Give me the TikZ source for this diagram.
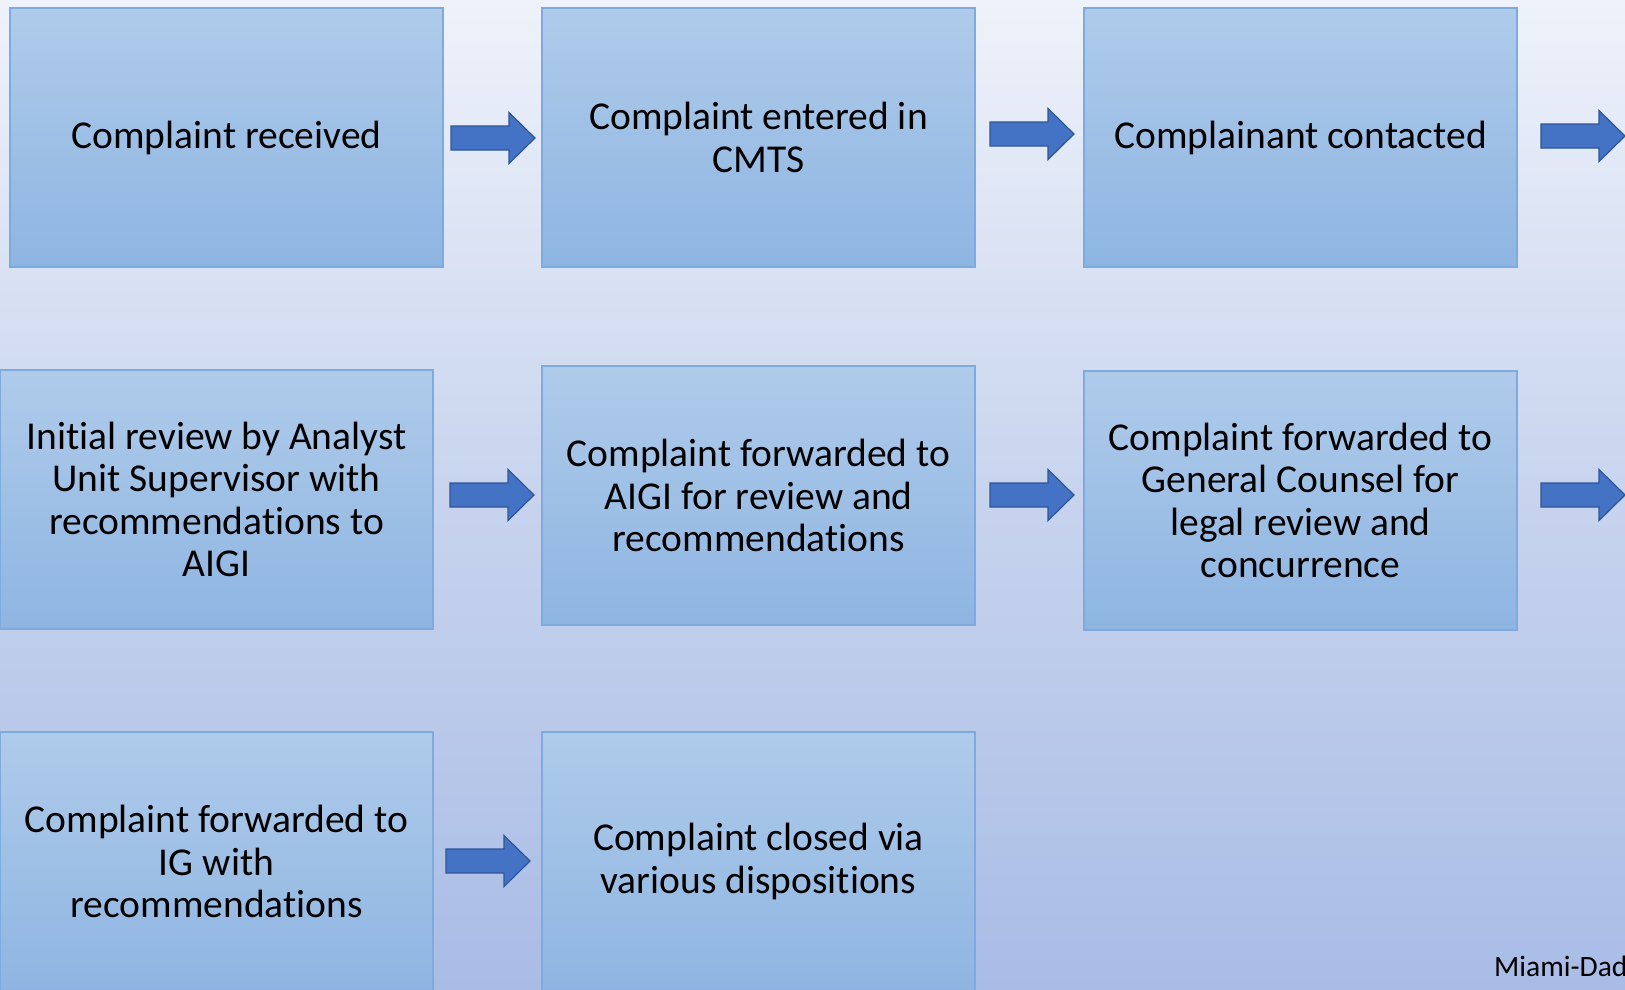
\documentclass[tikz,border=0pt]{standalone}
\usepackage{fontspec}
\setmainfont{Carlito}[Ligatures={NoCommon}]
\definecolor{bgtop}{HTML}{EEF2FA}
\definecolor{bgmid}{HTML}{C8D4EE}
\definecolor{bgbot}{HTML}{A9BCE6}
\definecolor{boxtop}{HTML}{AFCBEA}
\definecolor{boxbot}{HTML}{8EB5E2}
\definecolor{boxedge}{HTML}{7FAADD}
\definecolor{arrfill}{HTML}{4472C4}
\definecolor{arredge}{HTML}{2F5597}
\tikzset{
  stepbox/.style={rectangle, draw=boxedge, line width=1.2pt, top color=boxtop, bottom color=boxbot,
    minimum width=433pt, minimum height=259pt, align=center, text=black,
    font=\fontsize{39.5}{42.5}\selectfont},
  bigarrow/.pic={\draw[fill=arrfill, draw=arredge, line width=1.2pt]
    (-42,-12) -- (16,-12) -- (16,-25.5) -- (42,0) -- (16,25.5) -- (16,12) -- (-42,12) -- cycle;}
}
\begin{document}
\begin{tikzpicture}[x=1pt,y=-1pt]
\useasboundingbox (0,0) rectangle (1625,989);
\clip (0,0) rectangle (1625,989);
\shade[top color=bgtop, bottom color=bgbot, middle color=bgmid] (0,0) rectangle (1625,989);
\node[stepbox] (b1) at (226.5,137.5) {Complaint received};
\node[stepbox] (b2) at (758.5,137.5) {Complaint entered in\\CMTS};
\node[stepbox] (b3) at (1300.5,137.5) {Complainant contacted};
\node[stepbox] (b4) at (216.5,499.5) {Initial review by Analyst\\Unit Supervisor with\\recommendations to\\AIGI};
\node[stepbox] (b5) at (758.5,495.5) {Complaint forwarded to\\AIGI for review and\\recommendations};
\node[stepbox] (b6) at (1300.5,500.5) {Complaint forwarded to\\General Counsel for\\legal review and\\concurrence};
\node[stepbox] (b7) at (216.5,861.5) {Complaint forwarded to\\IG with\\recommendations};
\node[stepbox] (b8) at (758.5,861.5) {Complaint closed via\\various dispositions};
\pic at (493,138) {bigarrow};
\pic at (1032,134) {bigarrow};
\pic at (1583,136) {bigarrow};
\pic at (492,495) {bigarrow};
\pic at (1032,495) {bigarrow};
\pic at (1583,495) {bigarrow};
\pic at (488,861) {bigarrow};
\node[anchor=base west, inner sep=0pt, font=\fontsize{29.5}{33}\selectfont] (foot) at (1494,976) {Miami-Dade};
\end{tikzpicture}
\end{document}
